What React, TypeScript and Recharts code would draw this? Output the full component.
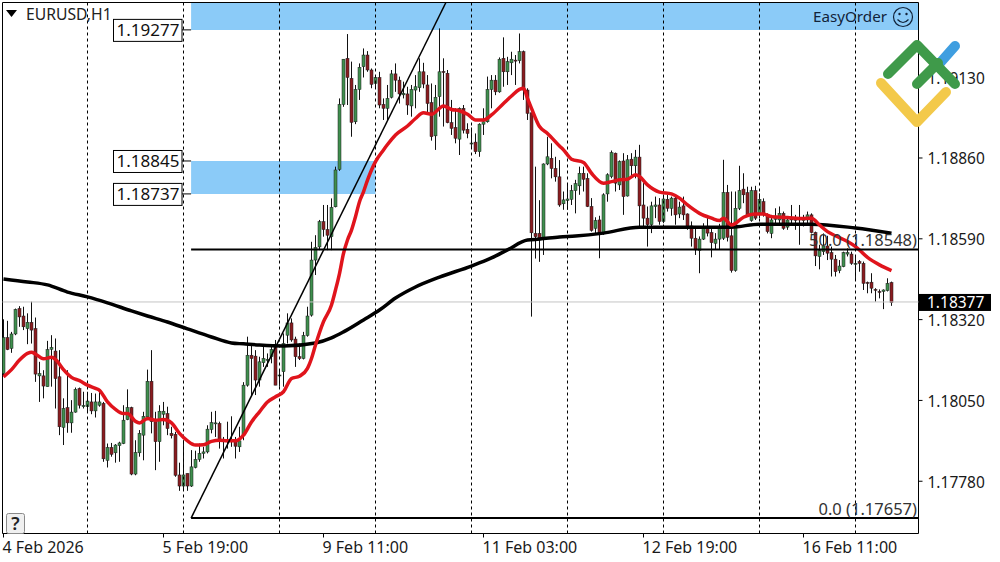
import {
  Bar,
  ComposedChart,
  Line,
  ReferenceArea,
  ReferenceDot,
  ReferenceLine,
  XAxis,
  YAxis,
} from "recharts";

// prices are stored in points (1 point = 0.00001), one entry per H1 bar
const opens = [
  118140, 118260, 118224, 118272, 118357, 118332, 118290, 118311, 118290, 118132, 118132, 118096, 118221, 118215, 118129, 117960, 118026, 117975, 118011, 118090,
  118029, 118029, 118045, 118015, 118034, 118040, 117850, 117893, 117875, 117899, 117906, 117986, 118026, 117804, 117875, 117934, 117995, 118114, 117979, 117912,
  118004, 118006, 117940, 117937, 117801, 117764, 117806, 117764, 117826, 117853, 117873, 117878, 117953, 117973, 117973, 117915, 117915, 117919, 117917, 117895,
  117934, 118101, 118201, 118198, 118118, 118176, 118185, 118196, 118235, 118132, 118146, 118268, 118309, 118255, 118196, 118190, 118267, 118335, 118519, 118563,
  118647, 118621, 118597, 118697, 118822, 119039, 119193, 119126, 118981, 119089, 119165, 119204, 119154, 119109, 119129, 119039, 119026, 119063, 119141, 119120,
  119071, 119074, 119034, 119087, 119095, 119148, 119104, 119045, 118934, 119065, 119149, 119143, 118978, 118962, 118923, 119026, 118956, 118908, 118913, 118881,
  118973, 118981, 119089, 119120, 119081, 119193, 119148, 119178, 119187, 119185, 119215, 119087, 119011, 118608, 118608, 118591, 118840, 118859, 118825, 118797,
  118707, 118718, 118722, 118751, 118767, 118809, 118792, 118698, 118625, 118653, 118609, 118740, 118798, 118876, 118770, 118850, 118733, 118856, 118834, 118863,
  118703, 118659, 118637, 118698, 118703, 118648, 118722, 118692, 118726, 118673, 118700, 118673, 118633, 118592, 118551, 118589, 118629, 118611, 118575, 118589,
  118592, 118745, 118600, 118484, 118692, 118756, 118744, 118651, 118751, 118675, 118714, 118670, 118608, 118655, 118653, 118675, 118629, 118659, 118655, 118653,
  118651, 118653, 118670, 118611, 118531, 118547, 118566, 118544, 118522, 118484, 118497, 118539, 118539, 118506, 118514, 118508, 118444, 118445, 118421, 118414,
  118414, 118417, 118444,
];
const highs = [
  118321, 118316, 118279, 118357, 118365, 118363, 118341, 118380, 118327, 118179, 118151, 118249, 118268, 118257, 118218, 118057, 118151, 118051, 118093, 118093,
  118079, 118079, 118075, 118073, 118079, 118045, 117906, 117908, 117904, 117912, 118034, 118087, 118029, 117917, 117951, 118012, 118153, 118218, 118012, 118034,
  118045, 118029, 117962, 117945, 117842, 117917, 117806, 117884, 117882, 117906, 117895, 117967, 118012, 118015, 117979, 117928, 117979, 117997, 117928, 117962,
  118111, 118263, 118235, 118218, 118196, 118229, 118207, 118235, 118252, 118151, 118274, 118341, 118324, 118263, 118240, 118279, 118363, 118580, 118602, 118653,
  118703, 118703, 118725, 118831, 119059, 119190, 119274, 119182, 119104, 119176, 119226, 119217, 119159, 119137, 119148, 119059, 119104, 119154, 119176, 119132,
  119115, 119098, 119104, 119137, 119193, 119178, 119137, 119109, 119104, 119293, 119193, 119154, 119054, 119026, 119029, 119037, 118976, 118962, 118942, 118976,
  119026, 119132, 119137, 119137, 119196, 119263, 119198, 119215, 119204, 119276, 119219, 119093, 119011, 118831, 118719, 118842, 118931, 118909, 118864, 118853,
  118748, 118776, 118770, 118787, 118831, 118831, 118809, 118726, 118662, 118667, 118742, 118809, 118885, 118878, 118852, 118876, 118870, 118876, 118887, 118904,
  118776, 118698, 118714, 118731, 118726, 118737, 118737, 118731, 118731, 118714, 118731, 118675, 118648, 118625, 118598, 118642, 118659, 118625, 118609, 118640,
  118854, 118770, 118748, 118748, 118834, 118809, 118764, 118764, 118767, 118742, 118725, 118675, 118670, 118692, 118698, 118681, 118659, 118703, 118670, 118703,
  118670, 118681, 118675, 118614, 118570, 118608, 118600, 118564, 118536, 118519, 118547, 118558, 118547, 118531, 118519, 118514, 118447, 118475, 118425, 118421,
  118421, 118458, 118447,
];
const lows = [
  118135, 118218, 118209, 118268, 118296, 118285, 118238, 118240, 118112, 118045, 118057, 118096, 118096, 118023, 117934, 117901, 117942, 117942, 118009, 118023,
  118023, 118012, 118004, 117993, 118029, 117845, 117826, 117862, 117842, 117845, 117904, 117984, 117800, 117800, 117862, 117850, 117984, 117940, 117817, 117845,
  117967, 117934, 117923, 117795, 117748, 117748, 117748, 117761, 117823, 117845, 117856, 117873, 117940, 117928, 117889, 117856, 117889, 117895, 117856, 117878,
  117917, 118096, 118068, 118068, 118096, 118162, 118162, 118174, 118101, 118096, 118096, 118240, 118246, 118162, 118185, 118187, 118263, 118330, 118469, 118552,
  118597, 118552, 118552, 118695, 118817, 119031, 119037, 118931, 118973, 119054, 119129, 119148, 119093, 119093, 119026, 118987, 118987, 119059, 119081, 119042,
  119059, 119004, 118998, 119026, 119081, 119093, 119009, 118918, 118887, 118998, 118965, 118976, 118937, 118909, 118870, 118942, 118926, 118892, 118873, 118864,
  118937, 118978, 119026, 119070, 119078, 119098, 119104, 119137, 119104, 119176, 119054, 118987, 118330, 118524, 118513, 118536, 118836, 118792, 118781, 118697,
  118687, 118687, 118703, 118675, 118737, 118748, 118696, 118614, 118609, 118525, 118603, 118714, 118792, 118748, 118753, 118670, 118731, 118798, 118792, 118625,
  118625, 118564, 118609, 118659, 118637, 118642, 118681, 118667, 118637, 118659, 118653, 118620, 118564, 118536, 118475, 118586, 118598, 118528, 118553, 118553,
  118586, 118581, 118477, 118480, 118686, 118709, 118664, 118647, 118653, 118659, 118664, 118608, 118592, 118636, 118636, 118620, 118620, 118640, 118620, 118570,
  118631, 118642, 118608, 118499, 118488, 118536, 118519, 118464, 118464, 118475, 118495, 118531, 118503, 118453, 118480, 118419, 118408, 118408, 118380, 118391,
  118355, 118414, 118366,
];
const closes = [
  118260, 118220, 118272, 118354, 118329, 118296, 118311, 118285, 118138, 118140, 118098, 118220, 118227, 118123, 117962, 118023, 117975, 118011, 118087, 118034,
  118033, 118048, 118015, 118045, 118045, 117855, 117893, 117870, 117901, 117908, 117984, 118026, 117804, 117876, 117940, 117997, 118114, 117979, 117912, 118014,
  118014, 117956, 117932, 117800, 117764, 117801, 117764, 117828, 117853, 117873, 117878, 117954, 117976, 117975, 117917, 117919, 117919, 117915, 117897, 117915,
  118101, 118201, 118190, 118118, 118179, 118190, 118187, 118220, 118101, 118135, 118240, 118309, 118252, 118196, 118190, 118267, 118332, 118519, 118561, 118647,
  118621, 118602, 118695, 118820, 119039, 119190, 119129, 118979, 119089, 119163, 119204, 119154, 119106, 119129, 119037, 119026, 119059, 119141, 119120, 119074,
  119076, 119037, 119089, 119098, 119148, 119107, 119042, 118931, 119063, 119148, 119146, 118978, 118959, 118926, 119026, 118953, 118942, 118910, 118881, 118973,
  118981, 119089, 119120, 119081, 119190, 119148, 119182, 119190, 119185, 119215, 119087, 119009, 118610, 118597, 118586, 118840, 118864, 118825, 118797, 118703,
  118720, 118723, 118751, 118774, 118809, 118789, 118698, 118618, 118651, 118609, 118737, 118804, 118878, 118776, 118848, 118731, 118854, 118834, 118863, 118700,
  118659, 118637, 118700, 118703, 118648, 118723, 118692, 118726, 118670, 118696, 118670, 118631, 118592, 118553, 118589, 118629, 118609, 118577, 118589, 118625,
  118744, 118595, 118484, 118692, 118751, 118737, 118670, 118751, 118659, 118722, 118670, 118614, 118653, 118659, 118675, 118625, 118653, 118653, 118653, 118659,
  118659, 118670, 118611, 118533, 118551, 118566, 118542, 118522, 118480, 118499, 118544, 118544, 118508, 118508, 118508, 118441, 118441, 118425, 118419, 118411,
  118419, 118441, 118377,
];

// moving averages, read at the bars where the curve could be made out
const redMaBars = [0, 2, 4, 6, 7, 8, 10, 12, 13, 15, 17, 19, 21, 23, 24, 26, 28, 30, 31, 33, 34, 36, 38, 40, 42, 44, 46, 48, 50, 52, 54, 56, 58, 60, 62, 64, 66, 68, 70, 72, 74, 76, 77, 78, 80, 82, 83, 84, 85, 86, 87, 88, 89, 90, 91, 92, 93, 95, 96, 98, 101, 103, 105, 107, 110, 112, 114, 116, 118, 120, 122, 125, 127, 129, 130, 131, 132, 134, 136, 139, 140, 142, 145, 147, 150, 152, 154, 156, 158, 159, 161, 164, 167, 169, 171, 174, 177, 179, 180, 182, 185, 188, 190, 192, 196, 200, 202, 204, 206, 208, 211, 213, 216, 219, 222];
const redMaValues = [118129, 118153, 118185, 118207, 118211, 118205, 118189, 118194, 118187, 118153, 118127, 118116, 118101, 118090, 118084, 118045, 118020, 118006, 118006, 117980, 117975, 117990, 117984, 117986, 117975, 117940, 117915, 117901, 117902, 117913, 117917, 117915, 117915, 117934, 117978, 118012, 118045, 118062, 118079, 118123, 118131, 118157, 118190, 118235, 118313, 118369, 118419, 118474, 118541, 118586, 118619, 118664, 118714, 118747, 118786, 118820, 118848, 118887, 118905, 118937, 118967, 118992, 119011, 119006, 119034, 119022, 119018, 119006, 118987, 118987, 119004, 119042, 119067, 119089, 119093, 119059, 119026, 118965, 118942, 118900, 118887, 118856, 118845, 118809, 118776, 118781, 118787, 118789, 118804, 118798, 118770, 118746, 118740, 118726, 118703, 118675, 118659, 118651, 118659, 118636, 118662, 118673, 118673, 118664, 118661, 118658, 118659, 118636, 118614, 118600, 118581, 118564, 118528, 118503, 118484];
const blackMaBars = [0, 6, 11, 16, 21, 26, 32, 36, 41, 46, 52, 57, 60, 64, 70, 78, 82, 85, 90, 94, 98, 103, 109, 117, 122, 126, 131, 134, 139, 143, 150, 159, 169, 182, 189, 202, 213, 222];
const blackMaValues = [118456, 118446, 118436, 118412, 118396, 118376, 118349, 118332, 118312, 118289, 118262, 118242, 118239, 118235, 118232, 118242, 118259, 118279, 118319, 118352, 118392, 118429, 118462, 118499, 118526, 118553, 118586, 118589, 118596, 118599, 118609, 118629, 118629, 118629, 118639, 118639, 118626, 118609];

const periodSeparators = [21, 45, 69, 93, 117, 141, 165, 189, 213];
const priceTicks = [1.1913, 1.1886, 1.1859, 1.1832, 1.1805, 1.1778];
const timeTicks = [0, 40, 80, 120, 160, 200];
const timeLabels = ["4 Feb 2026", "5 Feb 19:00", "9 Feb 11:00", "11 Feb 03:00", "12 Feb 19:00", "16 Feb 11:00"];

const X_DOMAIN: [number, number] = [-0.25, 228.75];
const Y_DOMAIN: [number, number] = [1.176054, 1.193795];
const levelStartBar = 46.9;
const secondBandEndBar = 93;
// level labels as printed, and the height on the price scale where each is drawn
const levelLabels = ["1.19277", "1.18845", "1.18737"];
const levelPrices = [1.19288, 1.1885, 1.1874];
const fibLabels = ["50.0 (1.18548)", "0.0 (1.17657)"];
const fibPrices = [1.18554, 1.17657];
const lastPrice = 1.18379;
const lastPriceLabel = "1.18377";
const trendBars: [number, number] = [46.9, 110.6];

const FONT = "'Noto Sans', sans-serif";
const GREEN = "#3f8f4e";
const RED = "#8a1c20";
const BAND = "#8bcbf8";

const redByBar = new Map(redMaBars.map((b, i) => [b, redMaValues[i]]));
const blackByBar = new Map(blackMaBars.map((b, i) => [b, blackMaValues[i]]));

const candles = opens.map((open, i) => ({
  bar: i,
  open: open / 100000,
  high: highs[i] / 100000,
  low: lows[i] / 100000,
  close: closes[i] / 100000,
  red: redByBar.has(i) ? redByBar.get(i)! / 100000 : null,
  black: blackByBar.has(i) ? blackByBar.get(i)! / 100000 : null,
}));

function Candle(props: any) {
  const { x, y, width, height, payload } = props;
  const cx = Math.floor(x + width / 2) + 0.5;
  const range = payload.high - payload.low;
  const toY = (p: number) => y + ((payload.high - p) / range) * height;
  const top = toY(Math.max(payload.open, payload.close));
  const bottom = toY(Math.min(payload.open, payload.close));
  const up = payload.close >= payload.open;
  return (
    <g>
      <line x1={cx} x2={cx} y1={y} y2={y + height} stroke="#111" strokeWidth={1} />
      <rect
        x={cx - 1.5}
        y={top}
        width={3}
        height={Math.max(bottom - top, 1)}
        fill={up ? GREEN : RED}
        stroke="#1c1c1c"
        strokeWidth={0.5}
      />
    </g>
  );
}

function TimeTick(props: any) {
  const { x, y, payload } = props;
  const label = timeLabels[timeTicks.indexOf(payload.value)];
  return (
    <g>
      <line x1={x} x2={x} y1={y - 8} y2={y - 4} stroke="#000" />
      <text x={x - 1} y={y + 11} fontFamily={FONT} fontSize={16} fill="#1a1a1a">
        {label}
      </text>
    </g>
  );
}

function PriceTick(props: any) {
  const { x, y, payload } = props;
  return (
    <g>
      <line x1={x - 9} x2={x - 5} y1={y} y2={y} stroke="#000" />
      <text x={x} y={y + 6.5} fontFamily={FONT} fontSize={15.5} fill="#1a1a1a">
        {payload.value.toFixed(5)}
      </text>
    </g>
  );
}

function LevelBox(props: any) {
  const { cx, cy, label } = props;
  return (
    <g>
      <line x1={182} x2={cx} y1={cy} y2={cy} stroke="#000" />
      <rect x={113.5} y={cy - 10.5} width={68.5} height={22} fill="#fff" stroke="#000" />
      <text x={148} y={cy + 6.5} textAnchor="middle" fontFamily={FONT} fontSize={17} fill="#111">
        {label}
      </text>
    </g>
  );
}

function FibText(props: any) {
  const { cy, label } = props;
  return (
    <text x={917} y={cy - 3.5} textAnchor="end" fontFamily={FONT} fontSize={16.5} fill="#333">
      {label}
    </text>
  );
}

function LastPriceBox(props: any) {
  const { cy } = props;
  return (
    <g>
      <rect x={919} y={cy - 8} width={72} height={17} fill="#000" />
      <text x={927} y={cy + 6} fontFamily={FONT} fontSize={15.5} fill="#fff">
        {lastPriceLabel}
      </text>
    </g>
  );
}

function Overlay() {
  return (
    <svg width={1000} height={562} style={{ position: "absolute", left: 0, top: 0, pointerEvents: "none" }}>
      <path d="M6 10 L17 10 L11.5 17 Z" fill="#000" />
      <text x={26} y={20} fontFamily={FONT} fontSize={15.7} fill="#222">
        EURUSD,H1
      </text>
      <text x={813} y={22} fontFamily={FONT} fontSize={15.2} fill="#12233a">
        EasyOrder
      </text>
      <circle cx={903} cy={17} r={9.5} fill="none" stroke="#12233a" strokeWidth={1.2} />
      <circle cx={899.5} cy={14} r={1.2} fill="#12233a" />
      <circle cx={906.5} cy={14} r={1.2} fill="#12233a" />
      <path d="M897.5 19.5 Q903 25.5 908.5 19.5" fill="none" stroke="#12233a" strokeWidth={1.2} />
      <rect x={6.5} y={513.5} width={18} height={20} rx={2} fill="#f0f0f0" stroke="#8a8a8a" />
      <text x={15.5} y={530} textAnchor="middle" fontFamily={FONT} fontSize={18} fontWeight={600} fill="#222">
        ?
      </text>
      <g fill="none" strokeWidth={10} strokeLinecap="round" strokeLinejoin="round">
        <path d="M940 63 L955 46" stroke="#3f9ee0" />
        <path d="M888 74 L917 45 L955 84" stroke="#3f9a4a" />
        <path d="M917 84 L938 63" stroke="#3f9a4a" />
        <path d="M881 83 L917 122 L946 92" stroke="#f3c94a" />
      </g>
    </svg>
  );
}

export default function App() {
  return (
    <div style={{ position: "absolute", left: 0, top: 0, width: 1000, height: 562, background: "#fff" }}>
      <ComposedChart
        width={1000}
        height={562}
        data={candles}
        margin={{ top: 2.5, right: 0, bottom: 0, left: 2.5 }}
      >
        <XAxis
          dataKey="bar"
          type="number"
          domain={X_DOMAIN}
          allowDataOverflow
          ticks={timeTicks}
          tick={<TimeTick />}
          tickLine={false}
          axisLine={false}
          interval={0}
          height={28.5}
        />
        <YAxis
          orientation="right"
          type="number"
          domain={Y_DOMAIN}
          allowDataOverflow
          ticks={priceTicks}
          interval={0}
          width={81.5}
          tickSize={4}
          tickMargin={5}
          tickLine={false}
          axisLine={false}
          tick={<PriceTick />}
        />
        <ReferenceArea x1={levelStartBar} x2={X_DOMAIN[1]} y1={levelPrices[0]} y2={Y_DOMAIN[1]} fill={BAND} fillOpacity={1} stroke="none" />
        <ReferenceArea x1={levelStartBar} x2={secondBandEndBar} y1={levelPrices[2]} y2={levelPrices[1]} fill={BAND} fillOpacity={1} stroke="none" />
        <ReferenceArea x1={X_DOMAIN[0]} x2={X_DOMAIN[1]} y1={Y_DOMAIN[0]} y2={Y_DOMAIN[1]} fill="none" stroke="#000" strokeWidth={1} />
        {periodSeparators.map((bar) => (
          <ReferenceLine key={bar} x={bar} stroke="#000" strokeDasharray="3 3" />
        ))}
        <ReferenceLine y={lastPrice} stroke="#c4c4c4" />
        <Bar
          dataKey={(d: any) => [d.low, d.high]}
          barSize={3}
          shape={<Candle />}
          isAnimationActive={false}
        />
        <Line dataKey="black" stroke="#000" strokeWidth={3.5} dot={false} connectNulls type="monotone" isAnimationActive={false} />
        <Line dataKey="red" stroke="#e0141c" strokeWidth={3.5} dot={false} connectNulls type="monotone" isAnimationActive={false} />
        <ReferenceLine
          segment={[
            { x: trendBars[0], y: fibPrices[1] },
            { x: trendBars[1], y: Y_DOMAIN[1] },
          ]}
          stroke="#000"
          strokeWidth={1.5}
        />
        {fibPrices.map((price) => (
          <ReferenceLine
            key={price}
            segment={[
              { x: levelStartBar, y: price },
              { x: X_DOMAIN[1], y: price },
            ]}
            stroke="#000"
            strokeWidth={2}
          />
        ))}
        {fibPrices.map((price, i) => (
          <ReferenceDot key={price} x={X_DOMAIN[1]} y={price} ifOverflow="visible" shape={<FibText label={fibLabels[i]} />} />
        ))}
        {levelPrices.map((price, i) => (
          <ReferenceDot key={price} x={levelStartBar} y={price} ifOverflow="visible" shape={<LevelBox label={levelLabels[i]} />} />
        ))}
        <ReferenceDot x={X_DOMAIN[1]} y={lastPrice} ifOverflow="visible" shape={<LastPriceBox />} />
      </ComposedChart>
      <Overlay />
    </div>
  );
}
